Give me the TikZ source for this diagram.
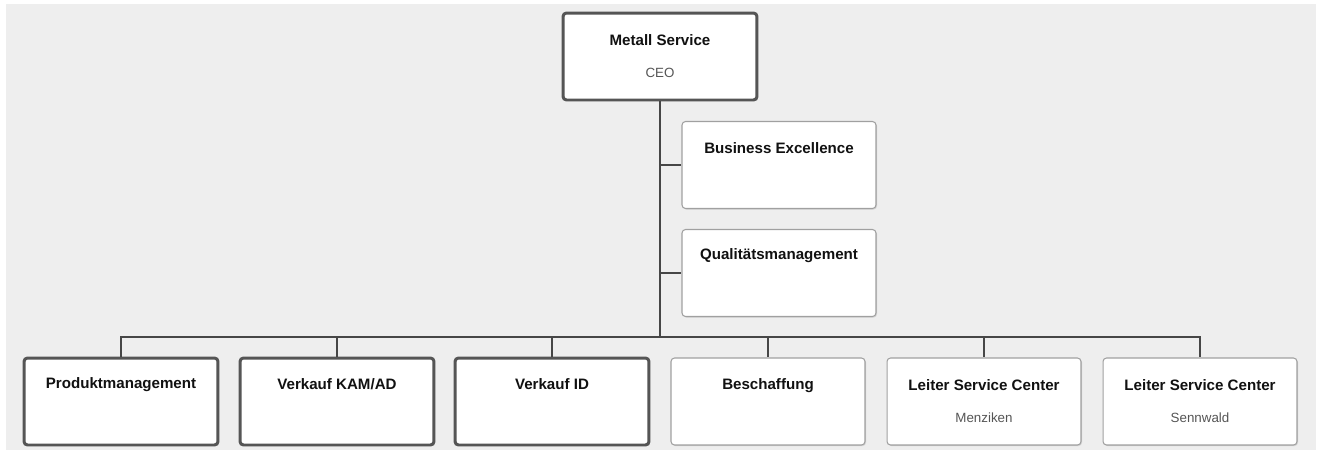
\documentclass[tikz,border=0pt]{standalone}
\usepackage{fontspec}
\setmainfont{Liberation Sans}
\usepackage{xcolor}
\definecolor{PageGray}{RGB}{238,238,238}
\definecolor{LineGray}{RGB}{70,70,70}
\definecolor{BorderDark}{RGB}{85,85,85}
\definecolor{BorderLight}{RGB}{160,160,160}
\definecolor{TextDark}{RGB}{17,17,17}
\definecolor{TextSub}{RGB}{85,85,85}
\usepackage{tikz}
\usetikzlibrary{positioning, calc, shadows}
\tikzset{
  % Generic unit box
  unitbox/.style={
    rectangle, rounded corners=2pt,
    draw=BorderLight, line width=0.6pt,
    fill=white,
    minimum width=3.88cm, minimum height=1.74cm,
    inner sep=0pt,
    drop shadow={opacity=0.25, shadow xshift=0.6pt, shadow yshift=-0.6pt}
  },
  % Heavy border variant
  unitbox heavy/.style={unitbox, draw=BorderDark, line width=1.7pt},
  % Texts
  utitle/.style={font=\fontsize{8.6}{10}\selectfont\bfseries, text=TextDark, inner sep=0pt},
  usub/.style={font=\fontsize{7.6}{9}\selectfont, text=TextSub, inner sep=0pt},
  % Connectors
  conn/.style={draw=LineGray, line width=0.8pt},
}
\begin{document}
\begin{tikzpicture}[x=0.02cm, y=-0.02cm]
  \useasboundingbox (0,0) rectangle (1319,450);
  \fill[PageGray] (6,4) rectangle (1316,450);

  % Top
  \node[unitbox heavy] (ceo) at (660,56.5) {};
  \node[utitle] (ceo-t) at ($(ceo.north)+(0,29)$) {Metall Service};
  \node[usub] (ceo-s) at ($(ceo.north)+(0,61)$) {CEO};

  % Staff units
  \node[unitbox] (be) at (779,165) {};
  \node[utitle] (be-t) at ($(be.north)+(0,27)$) {Business Excellence};
  \node[unitbox] (qm) at (779,273) {};
  \node[utitle] (qm-t) at ($(qm.north)+(0,27)$) {Qualitätsmanagement};

  % Line units
  \node[unitbox heavy] (pm) at (121,401.5) {};
  \node[utitle] (pm-t) at ($(pm.north)+(0,28)$) {Produktmanagement};
  \node[unitbox heavy] (kam) at (337,401.5) {};
  \node[utitle] (kam-t) at ($(kam.north)+(0,28)$) {Verkauf KAM/AD};
  \node[unitbox heavy] (vid) at (552,401.5) {};
  \node[utitle] (vid-t) at ($(vid.north)+(0,28)$) {Verkauf ID};
  \node[unitbox] (bes) at (768,401.5) {};
  \node[utitle] (bes-t) at ($(bes.north)+(0,28)$) {Beschaffung};
  \node[unitbox] (scm) at (984,401.5) {};
  \node[utitle] (scm-t) at ($(scm.north)+(0,28)$) {Leiter Service Center};
  \node[usub] (scm-s) at ($(scm.north)+(0,60)$) {Menziken};
  \node[unitbox] (scs) at (1200,401.5) {};
  \node[utitle] (scs-t) at ($(scs.north)+(0,28)$) {Leiter Service Center};
  \node[usub] (scs-s) at ($(scs.north)+(0,60)$) {Sennwald};

  % Connectors
  \coordinate (bus) at (660,337);
  \draw[conn] (ceo.south) -- (bus);
  \draw[conn] (ceo.south |- be.west) -- (be.west);
  \draw[conn] (ceo.south |- qm.west) -- (qm.west);
  \draw[conn] (bus) -| (pm.north);
  \draw[conn] (bus) -| (kam.north);
  \draw[conn] (bus) -| (vid.north);
  \draw[conn] (bus) -| (bes.north);
  \draw[conn] (bus) -| (scm.north);
  \draw[conn] (bus) -| (scs.north);
\end{tikzpicture}
\end{document}
